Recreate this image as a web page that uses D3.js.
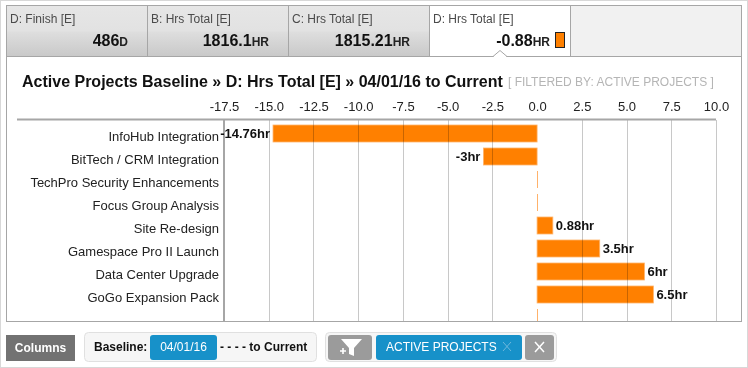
<!DOCTYPE html>
<html>
<head>
<meta charset="utf-8">
<script src="https://cdn.jsdelivr.net/npm/d3@7"></script>
<style>
  html, body { margin: 0; padding: 0; background: #fff; overflow: hidden; }
  svg { display: block; font-family: "Liberation Sans", Arial, sans-serif; }
</style>
</head>
<body>
<div id="chart"></div>
<script>
// data
const projects = ["InfoHub Integration", "BitTech / CRM Integration", "TechPro Security Enhancements",
  "Focus Group Analysis", "Site Re-design", "Gamespace Pro II Launch", "Data Center Upgrade", "GoGo Expansion Pack", ""];
const hours = [-14.76, -3, 0, 0, 0.88, 3.5, 6, 6.5, 0];
const barLabels = ["-14.76hr", "-3hr", "", "", "0.88hr", "3.5hr", "6hr", "6.5hr", ""];
const xTicks = [-17.5, -15, -12.5, -10, -7.5, -5, -2.5, 0, 2.5, 5, 7.5, 10];

const tabNames = ["D: Finish [E]", "B: Hrs Total [E]", "C: Hrs Total [E]", "D: Hrs Total [E]"];
const tabValues = ["486", "1816.1", "1815.21", "-0.88"];
const tabUnits = ["D", "HR", "HR", "HR"];

const ORANGE = "#ff8000";
const BLUE = "#1791c9";
const GREY_BTN = "#9b9b9b";

const svg = d3.select("#chart").append("svg").attr("width", 748).attr("height", 368);

// ==============================
// FRAME AND TABS
// ==============================

const tabEdges = [6, 147, 288, 429, 570, 741];

const tabGrad = svg.append("defs").append("linearGradient")
  .attr("id", "tabGrad").attr("x1", 0).attr("x2", 0).attr("y1", 0).attr("y2", 1);
tabGrad.append("stop").attr("offset", "0%").attr("stop-color", "#e6e6e6");
tabGrad.append("stop").attr("offset", "50%").attr("stop-color", "#e2e2e2");
tabGrad.append("stop").attr("offset", "52%").attr("stop-color", "#dedede");
tabGrad.append("stop").attr("offset", "100%").attr("stop-color", "#c9c9c9");

svg.append("rect").attr("x", 0.5).attr("y", 0.5).attr("width", 747).attr("height", 367)
  .attr("fill", "#fff").attr("stroke", "#d8d8d8");

svg.append("rect").attr("x", 6.5).attr("y", 5.5).attr("width", 735).attr("height", 316)
  .attr("fill", "#fff").attr("stroke", "#a6a6a6");

svg.append("rect").attr("x", 7).attr("y", 6).attr("width", 422).attr("height", 50).attr("fill", "url(#tabGrad)");
svg.append("rect").attr("x", 570).attr("y", 6).attr("width", 171).attr("height", 50).attr("fill", "#f1f1f1");

svg.append("line").attr("x1", 7).attr("x2", 741).attr("y1", 56.5).attr("y2", 56.5).attr("stroke", "#a6a6a6");

tabEdges.slice(1, 5).forEach(x => {
  svg.append("line").attr("x1", x + 0.5).attr("x2", x + 0.5).attr("y1", 6).attr("y2", 56).attr("stroke", "#a6a6a6");
});

// little notch under the active tab
svg.append("path").attr("d", "M493,56.5 L500,50.5 L507,56.5").attr("fill", "#fff").attr("stroke", "#a6a6a6");
svg.append("rect").attr("x", 494).attr("y", 56).attr("width", 12).attr("height", 1.5).attr("fill", "#fff");

tabNames.forEach((name, i) => {
  svg.append("text").attr("x", tabEdges[i] + 4).attr("y", 23)
    .attr("font-size", 12).attr("fill", "#4a4a4a").text(name);
});

const tabRight = [128, 269, 410, 550];
tabValues.forEach((v, i) => {
  const t = svg.append("text").attr("x", tabRight[i]).attr("y", 46).attr("text-anchor", "end")
    .attr("font-weight", "bold").attr("fill", "#111");
  t.append("tspan").attr("font-size", 16).text(v);
  t.append("tspan").attr("font-size", 12).attr("fill", "#222").text(tabUnits[i]);
});

svg.append("rect").attr("x", 555.5).attr("y", 32.5).attr("width", 9).attr("height", 15)
  .attr("fill", ORANGE).attr("stroke", "#222");

// ==============================
// TITLE
// ==============================

const title = svg.append("text").attr("x", 22).attr("y", 87);
title.append("tspan").attr("font-size", 16).attr("font-weight", "bold").attr("fill", "#111")
  .text("Active Projects Baseline » D: Hrs Total [E] » 04/01/16 to Current");
svg.append("text").attr("x", 508).attr("y", 86).attr("font-size", 12).attr("fill", "#b5b5b5")
  .text("[ FILTERED BY: ACTIVE PROJECTS ]");

// ==============================
// CHART
// ==============================

const x = d3.scaleLinear().domain([-17.5, 10]).range([224, 716]);
const y = d3.scaleBand().domain(d3.range(projects.length)).range([124.5, 331.5]);
const barH = 17;
const gridBottom = 321;

// ticks use a plain hyphen, not the unicode minus
const tickFormat = d3.formatLocale({ decimal: ".", thousands: ",", grouping: [3], currency: ["$", ""], minus: "-" }).format(".1f");

svg.append("g").selectAll("rect")
  .data(hours)
  .join("rect")
  .attr("x", d => d === 0 ? Math.round(x(0)) : Math.min(x(d), x(0)))
  .attr("y", (d, i) => y(i) + 0.5)
  .attr("width", d => Math.max(Math.abs(x(d) - x(0)), 1))
  .attr("height", (d, i) => i === projects.length - 1 ? gridBottom - y(i) - 0.5 : barH)
  .attr("fill", d => d === 0 ? "#ffb26b" : ORANGE)
  .attr("stroke", d => d === 0 ? "none" : "#ffb46b")
  .attr("stroke-width", 0.8);

// gridlines sit on top of the bars
svg.append("g").selectAll("line")
  .data(xTicks.filter(d => d !== -17.5 && d !== 0))
  .join("line")
  .attr("x1", d => Math.round(x(d)) + 0.5)
  .attr("x2", d => Math.round(x(d)) + 0.5)
  .attr("y1", 120)
  .attr("y2", gridBottom)
  .attr("stroke", "#c8c8c8")
  .style("mix-blend-mode", "multiply");

const xAxis = d3.axisTop(x).tickValues(xTicks).tickFormat(tickFormat).tickSize(0).tickPadding(0);
const axisG = svg.append("g").attr("transform", "translate(0,111)").call(xAxis);
axisG.select(".domain").remove();
axisG.selectAll("text").attr("font-size", 13).attr("font-family", "inherit").attr("fill", "#222");

svg.append("line").attr("x1", 17).attr("x2", 716).attr("y1", 119.5).attr("y2", 119.5)
  .attr("stroke", "#a6a6a6").attr("stroke-width", 2);
svg.append("line").attr("x1", 224).attr("x2", 224).attr("y1", 120).attr("y2", gridBottom)
  .attr("stroke", "#a6a6a6").attr("stroke-width", 2);

// project names
svg.append("g").selectAll("text")
  .data(projects)
  .join("text")
  .attr("x", 219)
  .attr("y", (d, i) => y(i) + 16.5)
  .attr("text-anchor", "end")
  .attr("font-size", 13)
  .attr("fill", "#222")
  .text(d => d);

// value labels
svg.append("g").selectAll("text")
  .data(hours)
  .join("text")
  .attr("x", d => d < 0 ? x(d) - 3 : x(d) + 3)
  .attr("y", (d, i) => y(i) + 13.5)
  .attr("text-anchor", d => d < 0 ? "end" : "start")
  .attr("font-size", 13)
  .attr("font-weight", "bold")
  .attr("fill", "#111")
  .text((d, i) => barLabels[i]);

// ==============================
// BOTTOM CONTROLS
// ==============================

svg.append("rect").attr("x", 6).attr("y", 335).attr("width", 69).attr("height", 26).attr("fill", "#727272");
svg.append("text").attr("x", 40.5).attr("y", 352).attr("text-anchor", "middle")
  .attr("font-size", 12).attr("font-weight", "bold").attr("fill", "#fff").text("Columns");

svg.append("rect").attr("x", 84.5).attr("y", 332.5).attr("width", 232).attr("height", 29).attr("rx", 4)
  .attr("fill", "#f6f6f6").attr("stroke", "#e0e0e0");
svg.append("text").attr("x", 94).attr("y", 351).attr("font-size", 12).attr("font-weight", "bold").attr("fill", "#111").text("Baseline:");
svg.append("rect").attr("x", 150).attr("y", 335).attr("width", 67).attr("height", 25).attr("rx", 3).attr("fill", BLUE);
svg.append("text").attr("x", 183.5).attr("y", 351).attr("text-anchor", "middle")
  .attr("font-size", 12).attr("fill", "#fff").text("04/01/16");
svg.append("text").attr("x", 220).attr("y", 351).attr("font-size", 12).attr("font-weight", "bold").attr("fill", "#111").text("- - - - to Current");

svg.append("rect").attr("x", 325.5).attr("y", 332.5).attr("width", 231).attr("height", 29).attr("rx", 4)
  .attr("fill", "#f6f6f6").attr("stroke", "#e0e0e0");
svg.append("rect").attr("x", 328).attr("y", 335).attr("width", 44).attr("height", 25).attr("rx", 3).attr("fill", GREY_BTN);
svg.append("path").attr("d", "M341,339 L362,339 L354,348 L354,356 L349,354 L349,348 Z").attr("fill", "#fff");
svg.append("path").attr("d", "M340,351 L346,351 M343,348 L343,354").attr("stroke", "#fff").attr("stroke-width", 1.6);
svg.append("rect").attr("x", 376).attr("y", 335).attr("width", 146).attr("height", 25).attr("rx", 3).attr("fill", BLUE);
svg.append("text").attr("x", 386).attr("y", 351).attr("font-size", 12).attr("fill", "#fff").text("ACTIVE PROJECTS");
svg.append("path").attr("d", "M503,342 L511,351 M511,342 L503,351").attr("stroke", "#6fb8dc").attr("stroke-width", 1);
svg.append("rect").attr("x", 525).attr("y", 335).attr("width", 29).attr("height", 25).attr("rx", 3).attr("fill", GREY_BTN);
svg.append("path").attr("d", "M535,342 L544,352 M544,342 L535,352").attr("stroke", "#fff").attr("stroke-width", 1.5);
</script>
</body>
</html>
